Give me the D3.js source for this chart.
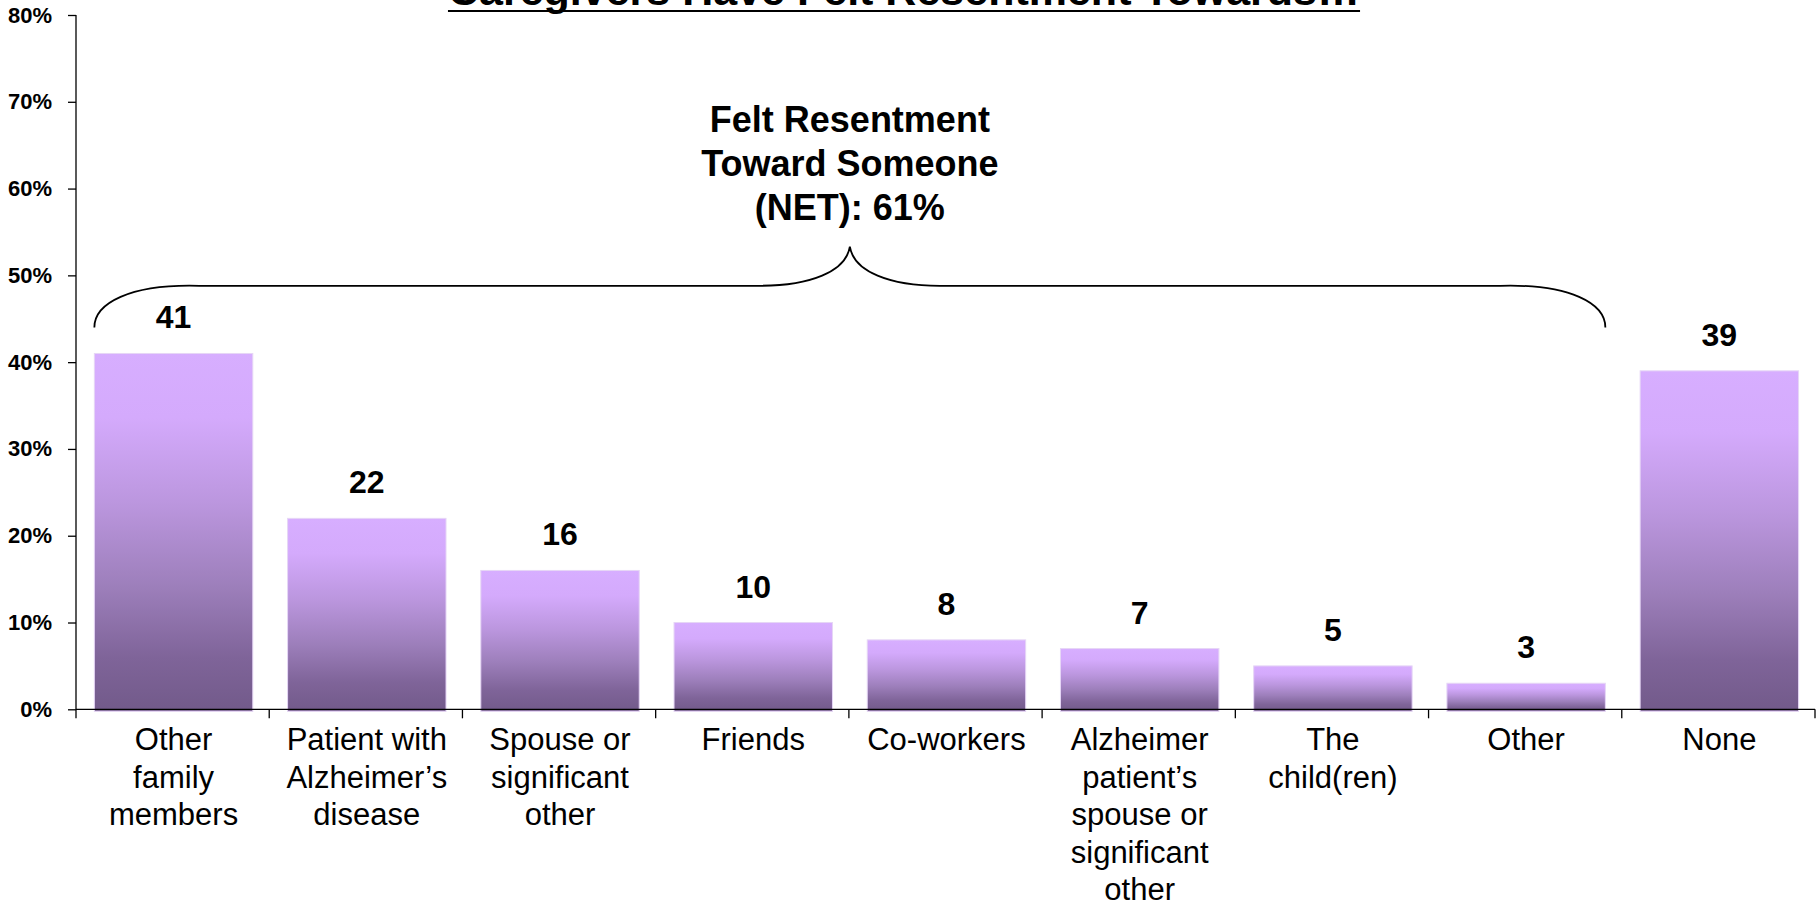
<!DOCTYPE html>
<html>
<head>
<meta charset="utf-8">
<script src="https://cdn.jsdelivr.net/npm/d3@7/dist/d3.min.js"></script>
<style>
  html, body { margin: 0; padding: 0; background: #ffffff; }
  svg { display: block; }
  text { font-family: "Liberation Sans", Arial, Helvetica, sans-serif; }
</style>
</head>
<body>
<svg id="chart" width="1816" height="908"></svg>
<script>
// Who caregivers have felt resentment towards (percent of caregivers)
const titleText = "Caregivers Have Felt Resentment Towards\u2026";
const categories = [
  "Other\nfamily\nmembers",
  "Patient with\nAlzheimer\u2019s\ndisease",
  "Spouse or\nsignificant\nother",
  "Friends",
  "Co-workers",
  "Alzheimer\npatient\u2019s\nspouse or\nsignificant\nother",
  "The\nchild(ren)",
  "Other",
  "None"
];
const values = [41, 22, 16, 10, 8, 7, 5, 3, 39];
const yTicks = [0, 10, 20, 30, 40, 50, 60, 70, 80];
const netLines = ["Felt Resentment", "Toward Someone", "(NET): 61%"];
// the bracket covers everyone except "None"
const bracketFrom = categories[0];
const bracketTo = categories[7];

const svg = d3.select("#chart");
const plot = { left: 76, right: 1815, top: 15, bottom: 709.3 };

const x = d3.scaleBand().domain(categories).range([plot.left, plot.right]).padding(0);
const y = d3.scaleLinear().domain([0, 80]).range([plot.bottom, plot.top]);
const barInset = x.bandwidth() * 0.095;
const barW = x.bandwidth() * 0.82;

// vertical gradient, light lavender on top to dusky purple at the base
const defs = svg.append("defs");
const grad = defs.append("linearGradient")
  .attr("id", "barFill").attr("x1", 0).attr("y1", 0).attr("x2", 0).attr("y2", 1);
[[0, "#d7aeff"], [0.18, "#d4aafc"], [0.42, "#bb96de"], [0.65, "#9d7fbb"],
 [0.85, "#7f6499"], [1, "#725a8a"]].forEach(([o, c]) =>
  grad.append("stop").attr("offset", o).attr("stop-color", c));

// title (runs off the top edge), underlined
const title = svg.append("text")
  .attr("x", 904).attr("y", 5)
  .attr("text-anchor", "middle")
  .style("font-size", "43px").style("font-weight", "bold")
  .text(titleText);
const tb = title.node().getBBox();
svg.append("line")
  .attr("x1", tb.x).attr("x2", tb.x + tb.width)
  .attr("y1", 11).attr("y2", 11)
  .attr("stroke", "#000").attr("stroke-width", 2);

// bars
svg.append("g").selectAll("rect")
  .data(values)
  .join("rect")
  .attr("x", (d, i) => x(categories[i]) + barInset)
  .attr("y", d => y(d))
  .attr("width", barW)
  .attr("height", d => y(0) - y(d) + 2)
  .attr("fill", "url(#barFill)")
  .attr("stroke", "#e6d6f6").attr("stroke-width", 1);

// value labels
svg.append("g").selectAll("text")
  .data(values)
  .join("text")
  .attr("x", (d, i) => x(categories[i]) + barInset + barW / 2)
  .attr("y", d => y(d) - 25)
  .attr("text-anchor", "middle")
  .style("font-size", "32px").style("font-weight", "bold")
  .text(d => d);

// y axis
const yAxis = svg.append("g")
  .attr("transform", `translate(${plot.left},0)`)
  .call(d3.axisLeft(y).tickValues(yTicks).tickFormat(d => d + "%").tickSize(8).tickPadding(16));
yAxis.select(".domain").attr("stroke", "#000").attr("stroke-width", 1.3).attr("d", `M0,${plot.top}V${plot.bottom}`);
yAxis.selectAll(".tick line").attr("stroke", "#000").attr("stroke-width", 1.3);
yAxis.selectAll(".tick text")
  .style("font-family", "'Liberation Sans', Arial, sans-serif")
  .style("font-size", "22px").style("font-weight", "bold").attr("fill", "#000");

// x axis: baseline with ticks at category boundaries
const xAxis = svg.append("g");
xAxis.append("line")
  .attr("x1", plot.left).attr("x2", plot.right)
  .attr("y1", plot.bottom).attr("y2", plot.bottom)
  .attr("stroke", "#000").attr("stroke-width", 1.3);
const bounds = categories.map(c => x(c)).concat([x(categories[categories.length - 1]) + x.bandwidth()]);
xAxis.selectAll("line.tk")
  .data(bounds)
  .join("line").attr("class", "tk")
  .attr("x1", d => d).attr("x2", d => d)
  .attr("y1", plot.bottom).attr("y2", plot.bottom + 9)
  .attr("stroke", "#000").attr("stroke-width", 1.3);

// category labels, multi-line
const catG = svg.append("g");
categories.forEach(c => {
  const cx = x(c) + barInset + barW / 2;
  const t = catG.append("text")
    .attr("x", cx)
    .attr("y", 750)
    .attr("text-anchor", "middle")
    .style("font-size", "31px");
  c.split("\n").forEach((line, k) => {
    t.append("tspan").attr("x", cx).attr("dy", k === 0 ? 0 : 37.5).text(line);
  });
});

// curly bracket over the categories that make up the NET
const bx0 = x(bracketFrom) + barInset;
const bx1 = x(bracketTo) + barInset + barW;
const bm = (bx0 + bx1) / 2;
const yEnd = y(44), yLine = y(48.8), yTip = y(53.3);
const bracket = d3.path();
bracket.moveTo(bx0, yEnd);
bracket.bezierCurveTo(bx0, yEnd - 24, bx0 + 35, yLine - 2, bx0 + 105, yLine);
bracket.lineTo(bm - 90, yLine);
bracket.bezierCurveTo(bm - 40, yLine, bm - 4, yLine - 14, bm, yTip);
bracket.bezierCurveTo(bm + 4, yLine - 14, bm + 40, yLine, bm + 90, yLine);
bracket.lineTo(bx1 - 105, yLine);
bracket.bezierCurveTo(bx1 - 35, yLine - 2, bx1, yEnd - 24, bx1, yEnd);
svg.append("path")
  .attr("d", bracket.toString())
  .attr("fill", "none").attr("stroke", "#000").attr("stroke-width", 1.8);

// NET annotation above the bracket tip
const net = svg.append("text")
  .attr("x", bm).attr("y", 132)
  .attr("text-anchor", "middle")
  .style("font-size", "36px").style("font-weight", "bold");
netLines.forEach((line, k) => {
  net.append("tspan").attr("x", bm).attr("dy", k === 0 ? 0 : 44).text(line);
});
</script>
</body>
</html>
